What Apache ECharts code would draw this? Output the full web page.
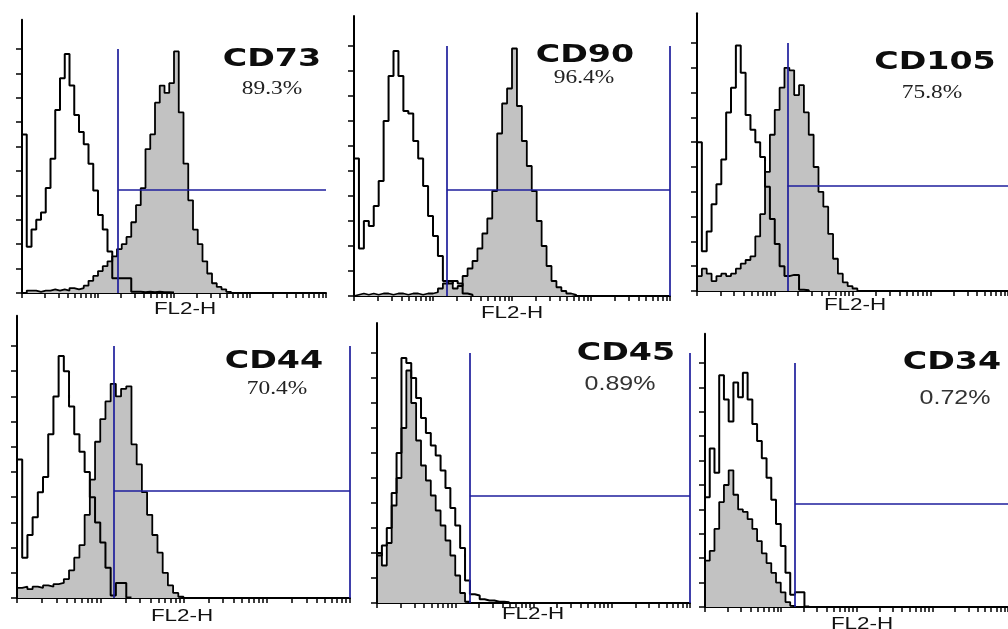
<!DOCTYPE html>
<html><head><meta charset="utf-8">
<script src="https://cdn.jsdelivr.net/npm/echarts@6/dist/echarts.min.js"></script>
<style>html,body{margin:0;padding:0;background:#fff}#c{width:1008px;height:629px}</style>
</head><body><div id="c"></div>
<script>
// ---- data ----
const markers  = ['CD73', 'CD90', 'CD105', 'CD44', 'CD45', 'CD34'];
const percents = ['89.3%', '96.4%', '75.8%', '70.4%', '0.89%', '0.72%'];
const axisName = 'FL2-H';
// histogram counts per bin (bin = 16 of 1024 channels, 4 log decades), in y-tick units
const isoCD73  = [6.5,1.9,2.6,3.0,3.3,4.3,5.5,7.5,8.8,9.8,8.5,7.3,6.6,6.1,5.3,4.2,3.2,2.6,1.7,0.6,0.6,0.6,0.6,0.05,0.05,0.03,0.05,0.03,0.05,0.03,0.03,0.02];
const posCD73  = [0,0.1,0.1,0.05,0.1,0.1,0.15,0.1,0.15,0.1,0.2,0.15,0.2,0.3,0.5,0.7,0.9,1.1,1.3,1.5,1.8,2.0,2.3,2.9,3.6,4.3,5.9,6.5,7.8,8.5,8.2,8.6,9.9,7.4,5.3,3.8,2.6,2.0,1.3,0.8,0.4,0.25,0.15,0.05];
const isoCD90  = [5.5,1.9,3.0,2.8,3.6,4.6,7.0,8.8,9.8,8.8,7.4,7.3,6.2,5.5,4.4,3.2,2.4,1.6,0.6,0.5,0.6,0.5,0.1,0.05];
const posCD90  = [0.05,0.1,0.05,0.1,0.05,0.1,0.1,0.05,0.1,0.1,0.05,0.1,0.1,0.05,0.1,0.1,0.15,0.3,0.5,0.6,0.3,0.4,0.8,1.1,1.4,1.9,2.5,3.1,4.2,6.5,7.7,8.3,9.9,7.6,6.2,5.2,4.2,3.0,2.0,1.2,0.6,0.35,0.2,0.1,0.05];
const isoCD105 = [6.0,1.6,2.4,3.5,4.3,5.3,7.2,8.2,9.9,8.8,7.1,6.5,6.0,5.4,4.2,2.9,1.9,1.0,0.6,0.65,0.65,0.05,0.03];
const posCD105 = [0.6,0.9,0.7,0.4,0.6,0.7,0.6,0.7,0.9,1.1,1.25,1.4,2.2,3.1,4.8,6.3,7.3,8.2,9.0,8.9,7.9,8.3,7.2,6.3,5.0,4.0,3.4,2.3,1.3,0.7,0.35,0.2,0.1];
const isoCD44  = [5.5,1.6,2.5,3.2,4.2,4.8,6.5,8.0,9.6,9.0,7.6,6.5,5.8,5.0,4.0,3.0,2.2,1.2,0.1,0.6,0.6,0.02];
const posCD44  = [0.4,0.45,0.35,0.45,0.4,0.5,0.45,0.55,0.6,0.75,1.1,1.6,2.1,3.3,4.7,6.2,7.1,7.8,8.5,8.0,8.3,8.4,6.1,5.3,4.2,3.3,2.5,1.8,1.0,0.5,0.2,0.05];
const isoCD45  = [1.9,2.3,3.0,4.4,6.0,9.8,9.6,9.0,8.2,7.4,6.8,6.3,5.9,5.3,4.6,3.8,3.1,2.2,0.9,0.35,0.3,0.15,0.1,0.1,0.05,0.05,0.03];
const posCD45  = [2.0,1.5,2.4,3.9,5.0,7.0,9.3,8.0,6.5,5.5,4.9,4.3,3.7,3.1,2.5,1.9,1.1,0.4,0.05];
const isoCD34  = [4.5,6.5,5.5,9.5,8.5,7.6,9.2,8.6,9.6,8.5,7.5,6.8,6.1,5.3,4.4,3.4,2.5,1.4,0.5,0.6,0.6,0.02];
const posCD34  = [1.9,2.3,3.2,4.3,5.0,5.6,4.6,4.0,3.9,3.6,3.2,2.7,2.2,1.8,1.4,1.0,0.6,0.2,0.05];
// gate marker: vertical at channel, horizontal at count
const gateChannel = [324, 301, 298, 298, 304, 304];
const gateLevel   = [4.25, 4.24, 4.23, 4.25, 4.28, 4.22];
const gateTop     = [10, 10, 10, 10, 10, 10];
const rightBorder = [false, true, false, true, true, false];
// axis ticks
const yTickValues = [0,1,2,3,4,5,6,7,8,9,10];
const decades = [1, 10, 100, 1000];
const multipliers = [1,2,3,4,5,6,7,8,9];
const CHANNELS = 1024, BIN = 16, YMAX = 11.2;

const isoSets = [isoCD73, isoCD90, isoCD105, isoCD44, isoCD45, isoCD34];
const posSets = [posCD73, posCD90, posCD105, posCD44, posCD45, posCD34];

// ---- layout ----
const layout = [
  {left: 22,  width: 304, bottom: 293, unit: 24.4},
  {left: 354, width: 316, bottom: 296, unit: 25.0},
  {left: 697, width: 316, bottom: 291, unit: 24.8},
  {left: 17,  width: 333, bottom: 598, unit: 25.2},
  {left: 377, width: 313, bottom: 603, unit: 25.0},
  {left: 705, width: 310, bottom: 607, unit: 24.4}
];
const titlePos = [[272,59],[585,55],[935,62],[274,361],[626,353],[952,362]];
const pctPos   = [[272,89],[584,78],[932,93],[277,389],[620,384],[955,398]];
const pctSerif = [true, true, true, true, false, false];
const namePos  = [[185,310],[512,314],[855,306],[182,617],[533,615],[862,625]];

const xTickValues = [];
decades.forEach(d => multipliers.forEach(m => xTickValues.push(CHANNELS / 4 * Math.log10(m * d))));
xTickValues.push(CHANNELS);

function toStep(counts) {
  const pts = [[0, 0]];
  counts.forEach((c, i) => pts.push([i * BIN, c]));
  pts.push([counts.length * BIN, 0]);
  return pts;
}

const BLUE = '#1e1e9c';
const grids = [], xAxes = [], yAxes = [], series = [], graphics = [];
layout.forEach((p, i) => {
  const h = YMAX * p.unit;
  grids.push({left: p.left, top: p.bottom - h, width: p.width, height: h});
  xAxes.push({type: 'value', gridIndex: i, min: 0, max: CHANNELS,
    axisLine: {show: true, onZero: false, lineStyle: {color: '#000', width: 2}},
    axisTick: {show: true, length: 5, customValues: xTickValues, lineStyle: {color: '#000', width: 1.5}},
    axisLabel: {show: false}, splitLine: {show: false}});
  yAxes.push({type: 'value', gridIndex: i, min: 0, max: YMAX,
    axisLine: {show: true, lineStyle: {color: '#000', width: 2}},
    axisTick: {show: true, length: 6, customValues: yTickValues, lineStyle: {color: '#000', width: 1.5}},
    axisLabel: {show: false}, splitLine: {show: false}});
  series.push({type: 'line', xAxisIndex: i, yAxisIndex: i, data: toStep(posSets[i]), step: 'end',
    symbol: 'none', silent: true, z: 2,
    lineStyle: {color: '#000', width: 1.8}, areaStyle: {color: '#c2c2c2', opacity: 1}});
  const g = gateChannel[i];
  const ml = [
    [{coord: [g, 0]}, {coord: [g, gateTop[i]]}],
    [{coord: [g, gateLevel[i]]}, {coord: [CHANNELS, gateLevel[i]]}]
  ];
  if (rightBorder[i]) ml.push([{coord: [CHANNELS, 0]}, {coord: [CHANNELS, gateTop[i]]}]);
  series.push({type: 'line', xAxisIndex: i, yAxisIndex: i, data: toStep(isoSets[i]), step: 'end',
    symbol: 'none', silent: true, z: 3,
    lineStyle: {color: '#000', width: 2},
    markLine: {silent: true, symbol: ['none', 'none'], animation: false, label: {show: false},
      lineStyle: {color: BLUE, width: 1.7, type: 'solid'}, emphasis: {disabled: true}, data: ml}});

  graphics.push({type: 'text', x: titlePos[i][0], y: titlePos[i][1], scaleX: 1.33, z: 10,
    style: {text: markers[i], font: 'bold 25px "DejaVu Sans"', fill: '#0d0d0d',
      align: 'center', verticalAlign: 'middle', textAlign: 'center', textVerticalAlign: 'middle'}});
  graphics.push({type: 'text', x: pctPos[i][0], y: pctPos[i][1], scaleX: pctSerif[i] ? 1.3 : 1.25, z: 10,
    style: {text: percents[i], font: pctSerif[i] ? '18px "Liberation Serif"' : '20px "Liberation Sans"',
      fill: pctSerif[i] ? '#222' : '#333',
      align: 'center', verticalAlign: 'middle', textAlign: 'center', textVerticalAlign: 'middle'}});
  graphics.push({type: 'text', x: namePos[i][0], y: namePos[i][1], scaleX: 1.4, z: 10,
    style: {text: axisName, font: '16px "Liberation Sans"', fill: '#111',
      align: 'center', verticalAlign: 'middle', textAlign: 'center', textVerticalAlign: 'middle'}});
});

const chart = echarts.init(document.getElementById('c'), null, {renderer: 'canvas'});
chart.setOption({animation: false, backgroundColor: '#fff', grid: grids, xAxis: xAxes, yAxis: yAxes,
  series: series, graphic: graphics});
</script></body></html>
